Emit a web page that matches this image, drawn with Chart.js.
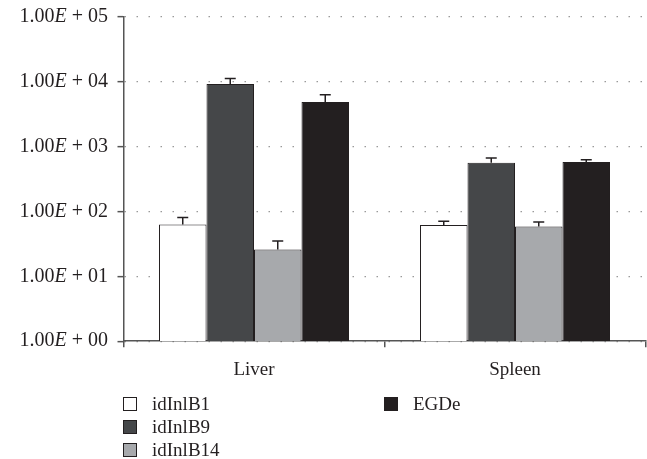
<!DOCTYPE html>
<html>
<head>
<meta charset="utf-8">
<script src="https://cdn.jsdelivr.net/npm/chart.js@4/dist/chart.umd.min.js"></script>
<style>
    body { margin: 0; background: #fff; }
    #wrap { position: relative; width: 647px; height: 459px; }
    #legend { position: absolute; left: 123px; top: 397px; width: 520px;
              display: grid; grid-template-columns: 261px 261px; grid-auto-flow: column;
              grid-template-rows: 23px 23px 23px;
              font-family: "Liberation Serif", serif; font-size: 19px; color: #231f20; }
    .item { display: flex; align-items: center; height: 14px; }
    .box { width: 12px; height: 12px; border: 1px solid #231f20; margin-right: 15px; }
</style>
</head>
<body>
<div id="wrap">
    <canvas id="chart" width="647" height="459"></canvas>
    <div id="legend"></div>
</div>
<script>
// Data
const categories = ['Liver', 'Spleen'];
const seriesNames = ['idInlB1', 'idInlB9', 'idInlB14', 'EGDe'];
const seriesColors = ['#ffffff', '#454749', '#a7a9ac', '#231f20'];

const idInlB1 = [63, 62];
const idInlB9 = [9300, 567];
const idInlB14 = [26, 59];
const EGDe = [4900, 581];

const idInlB1Err = [18, 9];
const idInlB9Err = [2000, 100];
const idInlB14Err = [9, 10];
const EGDeErr = [1400, 50];

const yTicks = [1, 10, 100, 1000, 10000, 100000];
const yTickLabels = ['1.00E + 00', '1.00E + 01', '1.00E + 02', '1.00E + 03', '1.00E + 04', '1.00E + 05'];

const seriesValues = [idInlB1, idInlB9, idInlB14, EGDe];
const seriesErrors = [idInlB1Err, idInlB9Err, idInlB14Err, EGDeErr];

const FONT = '"Liberation Serif", serif';
const INK = '#231f20';
const AXIS = '#555555';

// Upper error bars
const errorBars = {
    id: 'errorBars',
    afterDatasetsDraw(chart) {
        const ctx = chart.ctx;
        const y = chart.scales.y;
        ctx.save();
        ctx.strokeStyle = INK;
        ctx.lineWidth = 1.5;
        chart.data.datasets.forEach((ds, i) => {
            const meta = chart.getDatasetMeta(i);
            meta.data.forEach((bar, j) => {
                const top = y.getPixelForValue(ds.data[j] + ds.errors[j]);
                ctx.beginPath();
                ctx.moveTo(bar.x, bar.y);
                ctx.lineTo(bar.x, top);
                ctx.moveTo(bar.x - 5.5, top);
                ctx.lineTo(bar.x + 5.5, top);
                ctx.stroke();
            });
        });
        ctx.restore();
    }
};

// Y tick labels with an italic E
const yLabels = {
    id: 'yLabels',
    afterDraw(chart) {
        const ctx = chart.ctx;
        const y = chart.scales.y;
        const size = 20;
        ctx.save();
        ctx.fillStyle = INK;
        ctx.textBaseline = 'middle';
        ctx.textAlign = 'left';
        yTicks.forEach((v, i) => {
            const py = y.getPixelForValue(v);
            const parts = yTickLabels[i].split('E');
            const right = 108;
            ctx.font = size + 'px ' + FONT;
            const w2 = ctx.measureText(parts[1]).width;
            const w1 = ctx.measureText(parts[0]).width;
            ctx.font = 'italic ' + size + 'px ' + FONT;
            const wE = ctx.measureText('E').width;
            let x = right - w2 - wE - w1;
            ctx.font = size + 'px ' + FONT;
            ctx.fillText(parts[0], x, py);
            x += w1;
            ctx.font = 'italic ' + size + 'px ' + FONT;
            ctx.fillText('E', x, py);
            x += wE;
            ctx.font = size + 'px ' + FONT;
            ctx.fillText(parts[1], x, py);
        });
        ctx.restore();
    }
};

const ctx = document.getElementById('chart').getContext('2d');
const chart = new Chart(ctx, {
    type: 'bar',
    data: {
        labels: categories,
        datasets: seriesNames.map((name, i) => ({
            label: name,
            data: seriesValues[i],
            errors: seriesErrors[i],
            backgroundColor: seriesColors[i],
            borderColor: INK,
            borderWidth: 1,
            categoryPercentage: 0.728,
            barPercentage: 1
        }))
    },
    options: {
        responsive: false,
        animation: false,
        layout: {
            padding: { left: 117.5, top: 17, right: 1.5, bottom: 67 }
        },
        plugins: {
            legend: { display: false },
            tooltip: { enabled: false }
        },
        scales: {
            x: {
                offset: true,
                grid: {
                    offset: true,
                    drawOnChartArea: false,
                    tickLength: 6,
                    color: AXIS,
                    lineWidth: 1.5
                },
                border: { color: AXIS, width: 1.5 },
                ticks: {
                    color: INK,
                    padding: 11,
                    font: { family: FONT, size: 19 }
                }
            },
            y: {
                type: 'logarithmic',
                min: 1,
                max: 100000,
                afterBuildTicks(scale) {
                    scale.ticks = yTicks.map(v => ({ value: v }));
                },
                grid: {
                    color: '#9a9a9a',
                    lineWidth: 1.3,
                    tickLength: 6,
                    tickColor: AXIS,
                    tickWidth: 1.5,
                    tickBorderDash: []
                },
                border: { color: AXIS, width: 1.5, dash: [1.5, 10.5] },
                ticks: { display: false }
            }
        }
    },
    plugins: [errorBars, yLabels]
});

// Legend in two columns under the plot
const legend = document.getElementById('legend');
seriesNames.forEach((name, i) => {
    const item = document.createElement('div');
    item.className = 'item';
    const box = document.createElement('span');
    box.className = 'box';
    box.style.background = seriesColors[i];
    item.appendChild(box);
    item.appendChild(document.createTextNode(name));
    legend.appendChild(item);
});
</script>
</body>
</html>
